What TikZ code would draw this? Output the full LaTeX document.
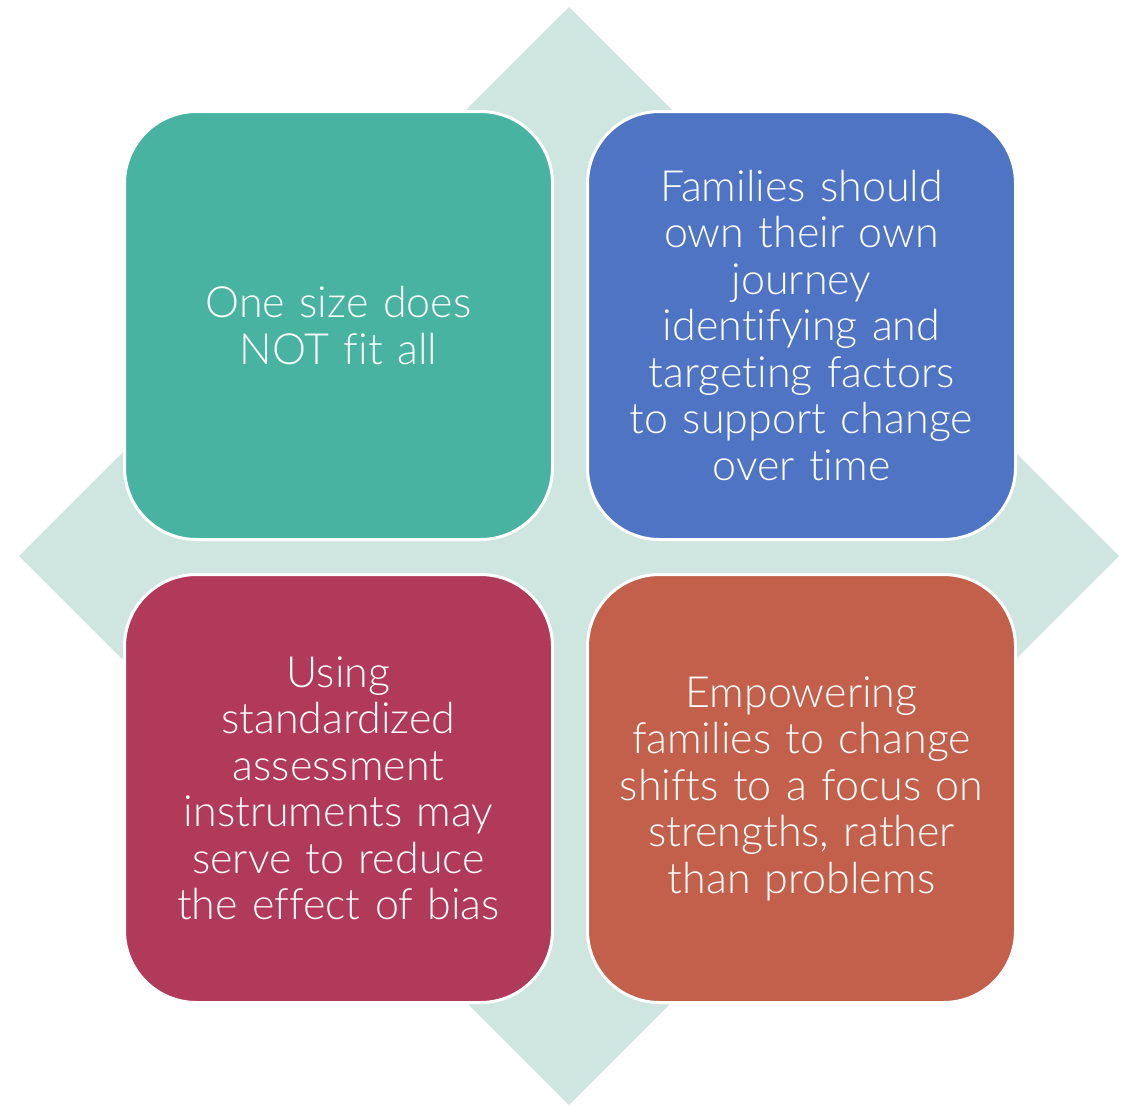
\documentclass[tikz,border=0pt]{standalone}
\usepackage{fontspec}
\setmainfont{Lato Light}[Ligatures=NoCommon]
\usetikzlibrary{positioning}

\definecolor{mint}{HTML}{CFE5DF}
\definecolor{tealbox}{HTML}{48B3A0}
\definecolor{bluebox}{HTML}{4F74C3}
\definecolor{redbox}{HTML}{B1395A}
\definecolor{orangebox}{HTML}{C2604B}

\tikzset{
  box/.style={draw=white, line width=3pt, rounded corners=72pt,
    minimum width=428pt, minimum height=428pt, inner sep=0pt,
    text width=410pt, align=center, text=white,
    font=\fontsize{43}{46.5}\selectfont}
}

\begin{document}
\begin{tikzpicture}[x=1pt,y=-1pt]
\useasboundingbox (0,0) rectangle (1131,1106);

% corners of the diamond
\coordinate (T) at (569,7);
\coordinate (R) at (1119,556);
\coordinate (B) at (569,1105);
\coordinate (L) at (19,556);

% background diamond
\fill[mint] (T) -- (R) -- (B) -- (L) -- cycle;

% four boxes
\node[box, fill=tealbox] (size) at (338.5,325.5) {One size does\\NOT fit all};
\node[box, fill=bluebox, right=32pt of size] (journey) {Families should\\own their own\\journey\\identifying and\\targeting factors\\to support change\\over time};
\node[box, fill=redbox, below=32pt of size] (bias) {Using\\standardized\\assessment\\instruments may\\serve to reduce\\the effect of bias};
\node[box, fill=orangebox, below=32pt of journey] (strengths) {Empowering\\families to change\\shifts to a focus on\\strengths, rather\\than problems};

\end{tikzpicture}
\end{document}
